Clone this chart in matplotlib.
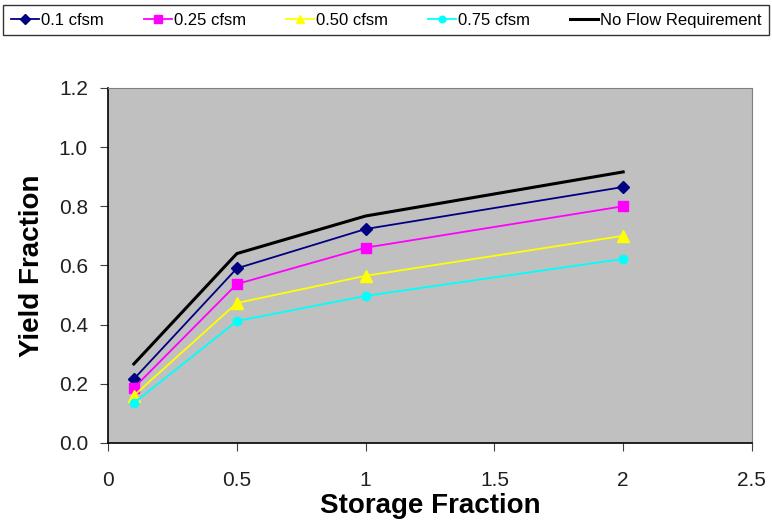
import matplotlib
matplotlib.use('Agg')
import matplotlib.pyplot as plt

plt.rcParams['font.family'] = ['Liberation Sans', 'DejaVu Sans']

storage = [0.1, 0.5, 1.0, 2.0]
cfsm_01 = [0.216, 0.59, 0.723, 0.865]
cfsm_025 = [0.186, 0.537, 0.66, 0.80]
cfsm_050 = [0.16, 0.473, 0.565, 0.70]
cfsm_075 = [0.135, 0.412, 0.497, 0.622]
no_flow = [0.267, 0.64, 0.767, 0.916]

fig = plt.figure(figsize=(7.72, 5.23), dpi=100)
ax = fig.add_axes([0.14, 0.153, 0.834, 0.679])
ax.set_facecolor('#c0c0c0')

ax.plot(storage, cfsm_01, color='#000080', marker='D', markersize=6, lw=1.3, label='0.1 cfsm')
ax.plot(storage, cfsm_025, color='#ff00ff', marker='s', markersize=7, lw=1.3, label='0.25 cfsm')
ax.plot(storage, cfsm_050, color='#ffff00', marker='^', markersize=8, lw=1.3, label='0.50 cfsm')
ax.plot(storage, cfsm_075, color='#00ffff', marker='o', markersize=6, lw=1.3, label='0.75 cfsm')
ax.plot(storage, no_flow, color='black', lw=2.2, label='No Flow Requirement')

ax.set_xlim(0, 2.5)
ax.set_ylim(0, 1.2)
ax.set_xticks([0, 0.5, 1, 1.5, 2, 2.5])
ax.set_xticklabels(['0', '0.5', '1', '1.5', '2', '2.5'])
ax.set_yticks([0, 0.2, 0.4, 0.6, 0.8, 1.0, 1.2])
ax.set_yticklabels(['0.0', '0.2', '0.4', '0.6', '0.8', '1.0', '1.2'])
ax.tick_params(labelsize=15, direction='out', length=5.5, color='#404040', labelcolor='#202020')
ax.tick_params(axis='x', pad=15)
ax.tick_params(axis='y', pad=9)
for s in ['top', 'right']:
    ax.spines[s].set_color('#808080')
for s in ['left', 'bottom']:
    ax.spines[s].set_linewidth(1.2)

ax.set_xlabel('Storage Fraction', fontsize=20, fontweight='bold', labelpad=2)
ax.set_ylabel('Yield Fraction', fontsize=20, fontweight='bold', labelpad=10)

leg = fig.legend(loc='upper center', bbox_to_anchor=(0.5, 0.99), ncol=5, fontsize=12,
                 frameon=True, fancybox=False, edgecolor='black', handlelength=1.7,
                 handletextpad=0.1, columnspacing=2.4, borderpad=0.45, markerscale=0.8,
                 borderaxespad=0)
leg.get_frame().set_linewidth(1.0)

fig.savefig('out.png', dpi=100)
